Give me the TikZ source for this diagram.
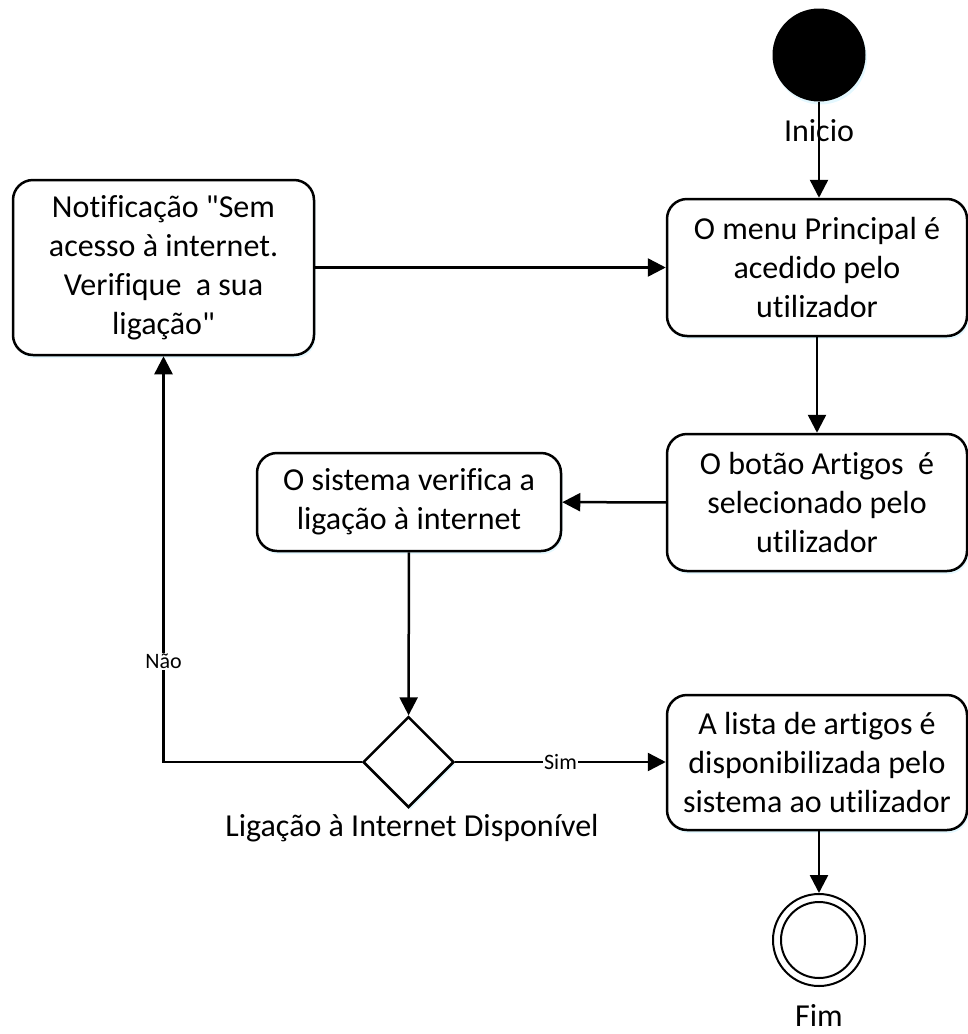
\documentclass[tikz,border=0pt]{standalone}
\usepackage{fontspec}
\setmainfont{Carlito}[Ligatures={TeXOff,CommonOff}]
\usetikzlibrary{arrows.meta,shapes.geometric,shadows}

\begin{document}
\begin{tikzpicture}[x=1pt,y=-1pt,
    sombra/.style={drop shadow={shadow xshift=1.5pt, shadow yshift=-3pt, fill=blue!25!cyan!30, opacity=0.35}},
    caixa/.style={draw, fill=white, line width=2.5pt, rounded corners=20pt, align=center,
        inner sep=0pt, font=\fontsize{32}{39}\selectfont, sombra},
    texto/.style={font=\fontsize{32}{39}\selectfont},
    rotulo/.style={fill=white, inner sep=1pt, font=\fontsize{22}{26}\selectfont},
    seta/.style={line width=2.5pt, -{Triangle[length=18pt,width=18pt]}},
    linha/.style={line width=2.5pt}]
    \useasboundingbox (0,0) rectangle (968,1034);

    % inicio
    \node[circle, fill=black, minimum size=93pt, inner sep=0pt, sombra] (inicio) at (819,55) {};
    \node[texto] (tinicio) at (819,131) {Inicio};

    % caixas
    \node[caixa, minimum width=301pt, minimum height=175pt] (notif) at (163.5,267.5)
        {Notificação "Sem\\acesso à internet.\\Verifique~ a sua\\ligação"};
    \node[caixa, minimum width=300pt, minimum height=137pt] (menu) at (817,267.5)
        {O menu Principal é\\acedido pelo\\utilizador};
    \node[caixa, minimum width=300pt, minimum height=137pt] (botao) at (817,502.5)
        {O botão Artigos~ é\\selecionado pelo\\utilizador};
    \node[caixa, minimum width=304pt, minimum height=98pt] (sistema) at (409,502)
        {O sistema verifica a\\ligação à internet};
    \node[caixa, minimum width=300pt, minimum height=135pt] (lista) at (817,762.5)
        {A lista de artigos é\\disponibilizada pelo\\sistema ao utilizador};

    % decisao
    \node[diamond, draw, fill=white, line width=2.5pt, minimum width=91pt, minimum height=91pt,
        inner sep=0pt, sombra] (decisao) at (408.5,762) {};
    \node[texto] (tdecisao) at (412,828) {Ligação à Internet Disponível};

    % fim
    \node[circle, draw, fill=white, line width=2pt, minimum size=92pt, inner sep=0pt] (fim) at (819,940) {};
    \draw[line width=2pt] (fim.center) circle (38);
    \node[texto] (tfim) at (819,1015) {Fim};

    % setas
    \draw[seta] (inicio) -- (inicio |- menu.north);
    \draw[seta] (notif) -- (menu);
    \draw[seta] (menu) -- (botao);
    \draw[seta] (botao) -- (sistema);
    \draw[seta] (sistema) -- (decisao);
    \draw[seta] (decisao.east) -- node[rotulo] {Sim} (lista.west |- decisao.east);
    \draw[seta] (decisao.west) -| node[rotulo, pos=0.624] {Não} (notif.south);
    \draw[seta] (fim |- lista.south) -- (fim);
\end{tikzpicture}
\end{document}
